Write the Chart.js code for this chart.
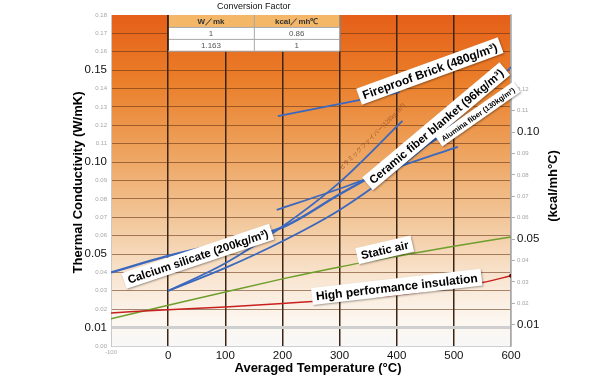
<!DOCTYPE html>
<html><head><meta charset="utf-8">
<script src="https://cdn.jsdelivr.net/npm/chart.js@4/dist/chart.umd.min.js"></script>
<style>html,body{margin:0;padding:0;background:#fff}</style>
</head><body>
<canvas id="c" width="600" height="381" style="display:block"></canvas>
<script>
// ---------- data ----------
const xTickValues = [-100, 0, 100, 200, 300, 400, 500, 600];
const calciumTemp = [-100, 0, 100, 200, 300, 400, 500, 600];
const calciumK    = [0.040, 0.049, 0.0563, 0.0645, 0.0825, 0.100, 0.118, 0.1355];
const blanketTemp = [0, 100, 200, 300, 400, 500, 600];
const blanketK    = [0.030, 0.0425, 0.057, 0.074, 0.096, 0.122, 0.1517];
const fiber128Temp = [0, 100, 200, 300, 410];
const fiber128K    = [0.030, 0.045, 0.065, 0.089, 0.1224];
const aluminaTemp = [190, 300, 400, 507];
const aluminaK    = [0.074, 0.0855, 0.097, 0.1083];
const brickTemp = [192, 405];
const brickK    = [0.125, 0.138];
const airTemp = [-100, 0, 100, 200, 300, 400, 500, 600];
const airK    = [0.0148, 0.0222, 0.0294, 0.0365, 0.0430, 0.0488, 0.0543, 0.0593];
const hpiTemp = [-100, 0, 100, 200, 300, 400, 500, 550, 600];
const hpiK    = [0.018, 0.0197, 0.0212, 0.0231, 0.0252, 0.0278, 0.0322, 0.0345, 0.0382];
const leftMajor = ['0.01', '0.05', '0.10', '0.15'];
const rightTickValues = [0.01,0.02,0.03,0.04,0.05,0.06,0.07,0.08,0.09,0.10,0.11,0.12];
const rightMajor = ['0.01', '0.05', '0.10'];
const kcalFactor = 0.86;
const tableTitle = 'Conversion Factor';
const tableHeader = ['W／mk', 'kcal／mh℃'];
const tableRows = [['1', '0.86'], ['1.163', '1']];

// ---------- annotation config ----------
const tags = [
  {text: 'Fireproof Brick (480g/m³)', t: 458, k: 0.1496, angle: -20, size: 12},
  {text: 'Ceramic fiber blanket (96kg/m³)', t: 469, k: 0.1195, angle: -40, size: 11.5},
  {text: 'Alumina fiber (130kg/m³)', t: 542, k: 0.1262, angle: -35, size: 7.5},
  {text: 'Calcium silicate (200kg/m³)', t: 52, k: 0.0488, angle: -18.5, size: 11.5},
  {text: 'Static air', t: 379, k: 0.0523, angle: -13, size: 11.5},
  {text: 'High performance insulation', t: 400, k: 0.0322, angle: -6.5, size: 12}
];
const smallNote = {text: 'セラミックファイバー(128kg/m³)', t: 357, k: 0.1139, angle: -45, size: 6};

const FONT = '"Liberation Sans", Arial, sans-serif';
const BLUE = '#3A68BF';
const pts = (xs, ys) => xs.map((x, i) => ({x, y: ys[i]}));
const near = (v, list) => list.includes(Number(v).toFixed(2));

const bgPlugin = {
  id: 'bg',
  beforeDraw(chart) {
    const {ctx, chartArea: a} = chart;
    const g = ctx.createLinearGradient(0, a.top, 0, a.bottom);
    g.addColorStop(0, '#E55F18');
    g.addColorStop(0.2, '#EA7F2A');
    g.addColorStop(0.42, '#EEA460');
    g.addColorStop(0.62, '#F2C79A');
    g.addColorStop(0.8, '#F9E6D2');
    g.addColorStop(0.92, '#FCF6EF');
    g.addColorStop(1, '#F8F8F8');
    ctx.save(); ctx.fillStyle = g; ctx.fillRect(a.left, a.top, a.right - a.left, a.bottom - a.top); ctx.restore();
  }
};

function drawTag(ctx, x, y, angle, text, size, bold, color) {
  ctx.save();
  ctx.translate(x, y); ctx.rotate(angle * Math.PI / 180);
  ctx.font = (bold ? 'bold ' : '') + size + 'px ' + FONT;
  const w = ctx.measureText(text).width + 8, h = size + 5;
  ctx.shadowColor = 'rgba(0,0,0,0.35)'; ctx.shadowBlur = 2; ctx.shadowOffsetX = 1; ctx.shadowOffsetY = 1;
  ctx.fillStyle = '#fff'; ctx.fillRect(-w / 2, -h / 2, w, h);
  ctx.shadowColor = 'transparent';
  ctx.fillStyle = color || '#000'; ctx.textAlign = 'center'; ctx.textBaseline = 'middle';
  ctx.fillText(text, 0, 1);
  ctx.restore();
}

const overlayPlugin = {
  id: 'overlay',
  afterDatasetsDraw(chart) {
    const {ctx, chartArea: a} = chart;
    const xs = chart.scales.x, ys = chart.scales.y;
    tags.forEach(t => drawTag(ctx, xs.getPixelForValue(t.t), ys.getPixelForValue(t.k), t.angle, t.text, t.size, true));
    ctx.save();
    ctx.translate(xs.getPixelForValue(smallNote.t), ys.getPixelForValue(smallNote.k));
    ctx.rotate(smallNote.angle * Math.PI / 180);
    ctx.font = smallNote.size + 'px "Noto Sans CJK JP", sans-serif';
    ctx.fillStyle = 'rgba(140,70,30,0.75)'; ctx.textAlign = 'center'; ctx.textBaseline = 'middle';
    ctx.fillText(smallNote.text, 0, 0);
    ctx.restore();
    // conversion table
    const x0 = xs.getPixelForValue(0), x2 = xs.getPixelForValue(300), x1 = (x0 + x2) / 2;
    const y0 = ys.getPixelForValue(0.18), y3 = ys.getPixelForValue(0.1605);
    const rh = (y3 - y0) / 3;
    ctx.save();
    ctx.fillStyle = '#F4B768'; ctx.fillRect(x0, y0, x2 - x0, rh);
    ctx.fillStyle = '#fff'; ctx.fillRect(x0, y0 + rh, x2 - x0, rh * 2);
    ctx.strokeStyle = '#A8A8A8'; ctx.lineWidth = 1;
    ctx.beginPath();
    for (let i = 1; i <= 3; i++) { ctx.moveTo(x0, y0 + rh * i + 0.5); ctx.lineTo(x2, y0 + rh * i + 0.5); }
    ctx.moveTo(x1 + 0.5, y0); ctx.lineTo(x1 + 0.5, y3);
    ctx.moveTo(x2 + 0.5, y0); ctx.lineTo(x2 + 0.5, y3);
    ctx.stroke();
    ctx.strokeStyle = '#3b2414'; ctx.lineWidth = 1.5;
    ctx.beginPath(); ctx.moveTo(x0, y0); ctx.lineTo(x0, y3); ctx.stroke();
    ctx.textAlign = 'center'; ctx.textBaseline = 'middle';
    ctx.font = 'bold 8px ' + FONT; ctx.fillStyle = '#333';
    ctx.fillText(tableHeader[0], (x0 + x1) / 2, y0 + rh / 2 + 0.5);
    ctx.fillText(tableHeader[1], (x1 + x2) / 2, y0 + rh / 2 + 0.5);
    ctx.font = '8px ' + FONT; ctx.fillStyle = '#555';
    tableRows.forEach((r, i) => {
      ctx.fillText(r[0], (x0 + x1) / 2, y0 + rh * (i + 1.5) + 0.5);
      ctx.fillText(r[1], (x1 + x2) / 2, y0 + rh * (i + 1.5) + 0.5);
    });
    ctx.font = '9px ' + FONT; ctx.fillStyle = '#111';
    ctx.fillText(tableTitle, x1, y0 - 8);
    ctx.restore();
  },
  afterDraw(chart) {
    const {ctx, chartArea: a} = chart;
    ctx.save();
    ctx.font = 'bold 13px ' + FONT; ctx.fillStyle = '#000'; ctx.textAlign = 'center'; ctx.textBaseline = 'middle';
    ctx.save(); ctx.translate(78, (a.top + a.bottom) / 2 + 2); ctx.rotate(-Math.PI / 2);
    ctx.fillText('Thermal Conductivity (W/mK)', 0, 0); ctx.restore();
    ctx.save(); ctx.translate(553, 186); ctx.rotate(-Math.PI / 2);
    ctx.fillText('(kcal/mh°C)', 0, 0); ctx.restore();
    ctx.fillText('Averaged Temperature (°C)', 318, 368);
    ctx.restore();
  }
};

const ds = (label, data, color, width, extra) => Object.assign({
  label, data, borderColor: color, backgroundColor: color, borderWidth: width,
  pointRadius: 0, fill: false, cubicInterpolationMode: 'monotone'
}, extra || {});

new Chart(document.getElementById('c'), {
  type: 'line',
  data: {
    datasets: [
      ds('High performance insulation', pts(hpiTemp, hpiK), '#C8201E', 1.5, {
        pointRadius: c => c.dataIndex === hpiTemp.length - 1 ? 2 : 0,
        pointBackgroundColor: '#5a0c0c', pointBorderWidth: 0
      }),
      ds('Static air', pts(airTemp, airK), '#6E9E2C', 1.5),
      ds('Fireproof Brick (480g/m³)', pts(brickTemp, brickK), BLUE, 1.8),
      ds('Alumina fiber (130kg/m³)', pts(aluminaTemp, aluminaK), BLUE, 1.8),
      ds('Ceramic fiber (128kg/m³)', pts(fiber128Temp, fiber128K), BLUE, 1.8),
      ds('Ceramic fiber blanket (96kg/m³)', pts(blanketTemp, blanketK), BLUE, 1.8),
      ds('Calcium silicate (200kg/m³)', pts(calciumTemp, calciumK), BLUE, 2.4)
    ]
  },
  options: {
    responsive: false, animation: false, devicePixelRatio: 1,
    layout: {padding: {top: 15, left: 0, right: 0, bottom: 0}},
    plugins: {legend: {display: false}, tooltip: {enabled: false}},
    scales: {
      x: {
        type: 'linear', min: -100, max: 600,
        afterBuildTicks: s => { s.ticks = xTickValues.map(v => ({value: v})); },
        afterFit: s => { s.height = 35; },
        border: {display: false},
        grid: {
          drawTicks: false,
          color: c => c.tick.value === -100 ? 'rgba(0,0,0,0)' : (c.tick.value === 600 ? '#A0A0A0' : '#3b2414'),
          lineWidth: 1.5
        },
        ticks: {
          padding: 3,
          callback: v => String(v),
          font: c => ({family: FONT, size: c.tick && c.tick.value === -100 ? 6 : 11.5}),
          color: c => c.tick && c.tick.value === -100 ? '#aaa' : '#111'
        }
      },
      y: {
        type: 'linear', position: 'left', min: 0, max: 0.18,
        afterFit: s => { s.width = 111; },
        border: {display: true, color: '#C8C8C8', width: 1},
        grid: {
          drawTicks: false,
          color: c => {
            const v = Number(c.tick.value).toFixed(2);
            if (v === '0.01') return '#CFCFCF';
            if (v === '0.00') return '#D0D0D0';
            if (v === '0.18') return 'rgba(0,0,0,0)';
            return 'rgba(95,45,15,0.55)';
          },
          lineWidth: c => Number(c.tick.value).toFixed(2) === '0.01' ? 3 : 1
        },
        ticks: {
          stepSize: 0.01, padding: 4,
          callback: v => Number(v).toFixed(2),
          font: c => ({family: FONT, size: c.tick && near(c.tick.value, leftMajor) ? 11.5 : 6}),
          color: c => c.tick && near(c.tick.value, leftMajor) ? '#111' : '#A5A5A5'
        }
      },
      y2: {
        type: 'linear', position: 'right', min: 0, max: 0.18 * kcalFactor,
        afterBuildTicks: s => { s.ticks = rightTickValues.map(v => ({value: v})); },
        afterFit: s => { s.width = 89; },
        border: {display: true, color: '#A8A8A8', width: 1.5},
        grid: {drawOnChartArea: false, drawTicks: true, tickLength: 4, tickColor: '#B0B0B0'},
        ticks: {
          padding: 2,
          callback: v => Number(v).toFixed(2),
          font: c => ({family: FONT, size: c.tick && near(c.tick.value, rightMajor) ? 11.5 : 6}),
          color: c => c.tick && near(c.tick.value, rightMajor) ? '#111' : '#A5A5A5'
        }
      }
    }
  },
  plugins: [bgPlugin, overlayPlugin]
});
</script>
</body></html>
